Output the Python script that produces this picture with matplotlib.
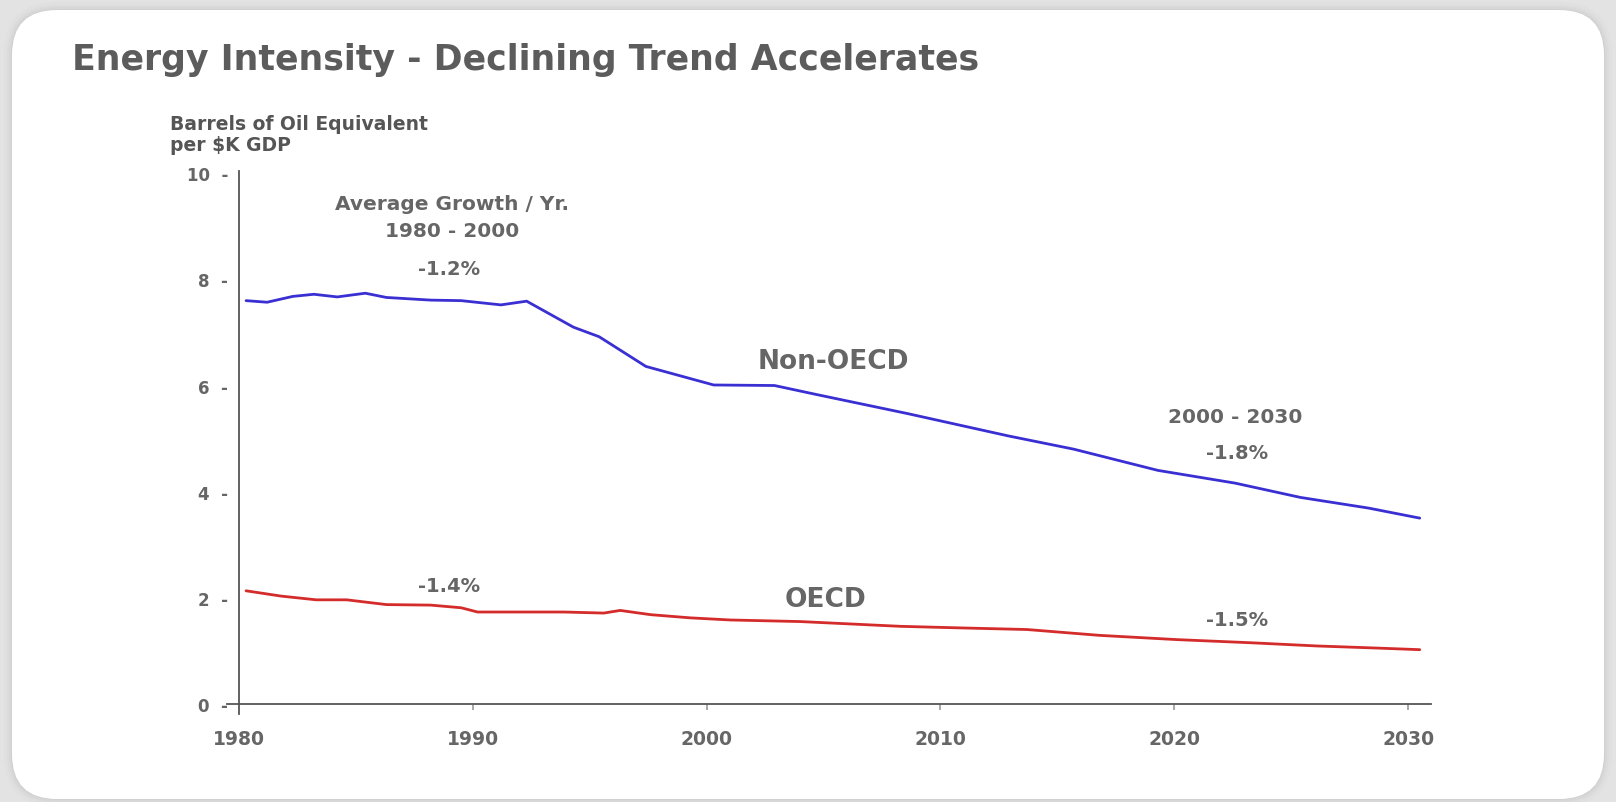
import matplotlib
matplotlib.use("Agg")
import matplotlib.pyplot as plt
from matplotlib.patches import FancyBboxPatch

# Non-OECD / OECD energy intensity, barrels of oil equivalent per $K GDP
years_non_oecd = [1980.3, 1981.2, 1982.3, 1983.2, 1984.2, 1985.4, 1986.3, 1988.2,
                  1989.5, 1991.2, 1992.3, 1994.3, 1995.4, 1997.4, 2000.3, 2002.9,
                  2004.7, 2008.6, 2012.9, 2015.7, 2019.3, 2022.6, 2025.4, 2028.3, 2030.5]
non_oecd = [7.60, 7.57, 7.68, 7.72, 7.67, 7.74, 7.66, 7.61,
            7.60, 7.52, 7.59, 7.10, 6.92, 6.36, 6.01, 6.00,
            5.83, 5.47, 5.05, 4.80, 4.40, 4.16, 3.89, 3.69, 3.50]

years_oecd = [1980.3, 1981.8, 1983.3, 1984.6, 1986.3, 1988.2, 1989.5, 1990.2,
              1993.9, 1995.6, 1996.3, 1997.6, 1999.3, 2001.0, 2004.0, 2008.3,
              2010.9, 2013.7, 2016.8, 2020.1, 2023.3, 2026.1, 2028.7, 2030.5]
oecd = [2.13, 2.03, 1.96, 1.96, 1.87, 1.86, 1.81, 1.73,
        1.73, 1.71, 1.76, 1.68, 1.62, 1.58, 1.55, 1.46,
        1.43, 1.40, 1.29, 1.21, 1.15, 1.09, 1.05, 1.02]

x_ticks = [1980, 1990, 2000, 2010, 2020, 2030]
y_ticks = [0, 2, 4, 6, 8, 10]

grey = "#666666"
plt.rcParams["font.family"] = ["DejaVu Sans"]
plt.rcParams["font.weight"] = "bold"

fig = plt.figure(figsize=(16.16, 8.03), dpi=100)
fig.patch.set_facecolor("#e3e3e3")

# white rounded panel with a soft shadow (pixel coordinates), behind the axes
for grow, alpha in [(8, 0.04), (5, 0.05), (3, 0.07), (1, 0.1)]:
    fig.patches.append(FancyBboxPatch((12 - grow, 3 - grow), 1592 + 2 * grow, 789 + 2 * grow,
                                      boxstyle="round,pad=0,rounding_size=%d" % (45 + grow),
                                      transform=None, facecolor="#9a9a9a", edgecolor="none",
                                      alpha=alpha, zorder=-3))
fig.patches.append(FancyBboxPatch((12, 3), 1592, 789, boxstyle="round,pad=0,rounding_size=45",
                                  transform=None, facecolor="white", edgecolor="none", zorder=-2))

ax = fig.add_axes([0.1407, 0.1091, 0.7451, 0.6771])
ax.set_facecolor("none")
ax.plot(years_non_oecd, non_oecd, color="#3a2fd2", lw=2.0, solid_capstyle="round")
ax.plot(years_oecd, oecd, color="#d42b2b", lw=2.0, solid_capstyle="round")

ax.set_xlim(1979.5, 2031)
ax.set_ylim(-0.2, 10.05)
ax.spines["top"].set_visible(False)
ax.spines["right"].set_visible(False)
ax.spines["left"].set_position(("data", 1980))
ax.spines["bottom"].set_position(("data", 0))
for s in ("left", "bottom"):
    ax.spines[s].set_color("#555555")
    ax.spines[s].set_linewidth(1.3)

ax.set_xticks(x_ticks)
ax.set_xticklabels([str(t) for t in x_ticks])
ax.set_yticks(y_ticks)
ax.set_yticklabels(["%d  -" % t for t in y_ticks])
ax.tick_params(axis="y", length=0, pad=8, labelsize=12, labelcolor=grey)
ax.tick_params(axis="x", length=4, width=1.2, color="#999999", pad=14,
               labelsize=13.5, labelcolor=grey)
ax.xaxis.get_major_ticks()[0].tick1line.set_visible(False)

fig.text(72 / 1616, 1 - 60 / 803, "Energy Intensity - Declining Trend Accelerates",
         fontsize=25, color="#5c5c5c", va="center", ha="left")
fig.text(170 / 1616, 1 - 135 / 803, "Barrels of Oil Equivalent\nper $K GDP",
         fontsize=13.5, color="#555555", va="center", ha="left", linespacing=1.15)

ann = dict(color=grey, ha="center", va="center")
ax.text(1989.1, 9.43, "Average Growth / Yr.", fontsize=14.5, **ann)
ax.text(1989.1, 8.92, "1980 - 2000", fontsize=14.5, **ann)
ax.text(1989.0, 8.2, "-1.2%", fontsize=14, **ann)
ax.text(2005.4, 6.46, "Non-OECD", fontsize=19, **ann)
ax.text(2022.6, 5.42, "2000 - 2030", fontsize=14.5, **ann)
ax.text(2022.7, 4.73, "-1.8%", fontsize=14, **ann)
ax.text(1989.0, 2.23, "-1.4%", fontsize=14, **ann)
ax.text(2005.1, 1.98, "OECD", fontsize=19, **ann)
ax.text(2022.7, 1.59, "-1.5%", fontsize=14, **ann)

fig.savefig("out.png", dpi=100, facecolor=fig.get_facecolor())
